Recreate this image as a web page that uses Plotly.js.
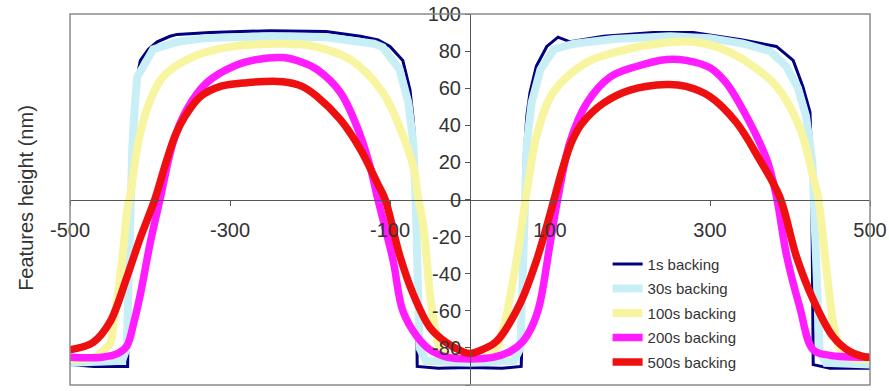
<!DOCTYPE html>
<html>
<head>
<meta charset="utf-8">
<script src="https://cdn.plot.ly/plotly-3.0.1.min.js"></script>
<style>html,body{margin:0;padding:0;background:#fff;}#chart{width:889px;height:391px;}</style>
</head>
<body>
<div id="chart"></div>
<script>
// Series names
const seriesNames = ["1s backing", "30s backing", "100s backing", "200s backing", "500s backing"];

// 1s backing
const x1s = [-500,-470,-440,-428,-427,-426,-424,-422,-419,-412,-402,-391,-375,-366,-325,-250,-180,-137,-115,-100,-84,-75,-71,-69,-68,-67,-66,-40,0,40,64,66,67,68,71,75,83,96,110,118,125,167,229,279,341,383,404,416,425,427,428,429,450,500];
const y1s = [-89,-90,-90,-90,-60,-20,10,40,60,75,81,85,88,89,90,91,90.5,88,86,82.5,75,59,43,31,0,-60,-90,-91,-90.5,-91,-90,-60,0,25,45,57.7,72,82.5,87.5,86,85,88,90,90,86,82.5,75,61,47,20,-40,-89,-91,-91];

// 30s backing
const x30s = [-500,-450,-435,-429,-427,-425,-422,-419,-416,-396,-366,-330,-250,-180,-150,-120,-109,-88,-77,-71,-68,-66,-63,-55,0,55,63,66,68,71,77,88,105,130,180,250,300,341,375,395,410,420,428,432,434,437,445,500];
const y30s = [-88,-88,-87,-80,-40,0,30,50,66,81,85,87,88,87.5,86,84,82,70,52,31,0,-40,-80,-87,-88,-87,-80,-40,0,30,52,70,81,84,86.5,88,87,84,80,72,60,45,20,-20,-60,-82,-88,-89];

// 100s backing
const x100s = [-500,-470,-455,-450,-445,-440,-433,-428,-425,-415,-404,-384,-346,-304,-271,-234,-200,-150,-109,-88,-71,-65,-58,-50,-42,-35,-20,0,20,33,42,58,69,75,83,104,146,187,246,279,310,341,383,412,429,435,440,446,454,462,472,500];
const y100s = [-86,-85,-80,-78,-65,-51,-25,-4,1.5,30,48.5,66,77,82,83.5,84,83,75.5,57.7,39,18,1.6,-15,-51,-73,-82,-85,-86,-85,-80,-69,-33,-1,15,34,57.7,74,80,84.6,85,82,75.5,61,39,12,1.6,-15,-39,-66,-80,-85,-86];

// 200s backing
const x200s = [-500,-460,-440,-429,-420,-412,-400,-387,-371,-354,-329,-296,-266,-234,-210,-191,-162,-141,-125,-116,-108,-96,-84,-66,-50,-29,0,30,50,66,78,87,100,110,125,146,175,208,246,270,300,320,341,371,383,396,412,429,450,500];
const y200s = [-85,-85,-83,-79,-66,-51,-24,1,31,48.5,63,71.7,75.5,76.5,74,70,57.7,39,18,1.6,-12,-33,-60,-74,-81,-85,-86,-85,-82,-76.5,-68,-56.6,-24,1,31,52,66,71.7,75.5,75,71,63,48.5,21.5,1.6,-30.7,-57.7,-81,-84,-85];

// 500s backing
const x500s = [-500,-471,-450,-429,-412,-394,-380,-368,-356,-337,-312,-279,-234,-210,-191,-162,-137,-116,-106,-88,-71,-50,-30,-9,0,15,33,62,83,100,105,118,128,140,167,200,246,270,300,333,362,387,408,429,454,475,496,500];
const y500s = [-81,-77,-66,-42,-20.5,0,20,35,45,55.5,61,63,63.5,61,55.5,43,27,9,0,-30,-51,-69,-77,-82,-83,-81,-76.5,-56.6,-33,-8,0,20,32,41,52,59,62,61,55.5,41.5,21.5,1.6,-30.7,-54,-74,-82,-85,-85];

// Axis ticks
const xTickVals = [-500, -300, -100, 100, 300, 500];
const xTickText = ["-500", "-300", "-100", "100", "300", "500"];
const yTickVals = [-100, -80, -60, -40, -20, 0, 20, 40, 60, 80, 100];
const yTickText = ["-100", "-80", "-60", "-40", "-20", "0", "20", "40", "60", "80", "100"];
const yTitle = "Features height (nm)";

const xs = [x1s, x30s, x100s, x200s, x500s];
const ys = [y1s, y30s, y100s, y200s, y500s];
const colors = ["#000080", "#c9eff6", "#f7f5a0", "#ff1cff", "#ee1010"];
const widths = [3, 8, 8, 7.5, 7.5];
const shapesLine = ["linear", "linear", "spline", "spline", "spline"];

const traces = seriesNames.map((n, i) => ({
  type: "scatter", mode: "lines", name: n,
  x: xs[i], y: ys[i],
  legendgroup: "g" + i,
  line: {color: colors[i], width: widths[i], shape: shapesLine[i], smoothing: 1}
}));

const fontFam = "Liberation Sans, Arial, sans-serif";
const layout = {
  width: 889, height: 391,
  margin: {l: 70, r: 19, t: 14, b: 6},
  paper_bgcolor: "#fff", plot_bgcolor: "#fff",
  showlegend: true,
  legend: {x: 0.672, y: 0.37, xanchor: "left", yanchor: "top", bgcolor: "rgba(0,0,0,0)",
           font: {family: fontFam, size: 15, color: "#333"}, tracegroupgap: 2},
  xaxis: {range: [-500, 500], tickmode: "array", tickvals: xTickVals, ticktext: xTickText,
          ticks: "outside", ticklen: 5, tickcolor: "#555", showline: true, linecolor: "#555", linewidth: 1,
          showgrid: false, zeroline: false, anchor: "free", position: 0.5,
          ticklabelstandoff: 7,
          tickfont: {family: fontFam, size: 20, color: "#333"}},
  yaxis: {range: [-100, 100], tickmode: "array", tickvals: yTickVals, ticktext: yTickText,
          ticks: "outside", ticklen: 5, tickcolor: "#555", showline: true, linecolor: "#555", linewidth: 1,
          showgrid: false, zeroline: false, anchor: "free", position: 0.5,
          tickfont: {family: fontFam, size: 20, color: "#333"}},
  shapes: [{type: "rect", xref: "paper", yref: "paper", x0: 0, x1: 1, y0: 0, y1: 1,
            line: {color: "#8a8a8a", width: 1.5}}],
  annotations: [{text: yTitle, xref: "paper", yref: "paper", x: -0.056, y: 0.505,
                 xanchor: "center", yanchor: "middle", textangle: -90, showarrow: false,
                 font: {family: fontFam, size: 20, color: "#333"}}]
};

Plotly.newPlot("chart", traces, layout, {displayModeBar: false, staticPlot: true});
</script>
</body>
</html>
